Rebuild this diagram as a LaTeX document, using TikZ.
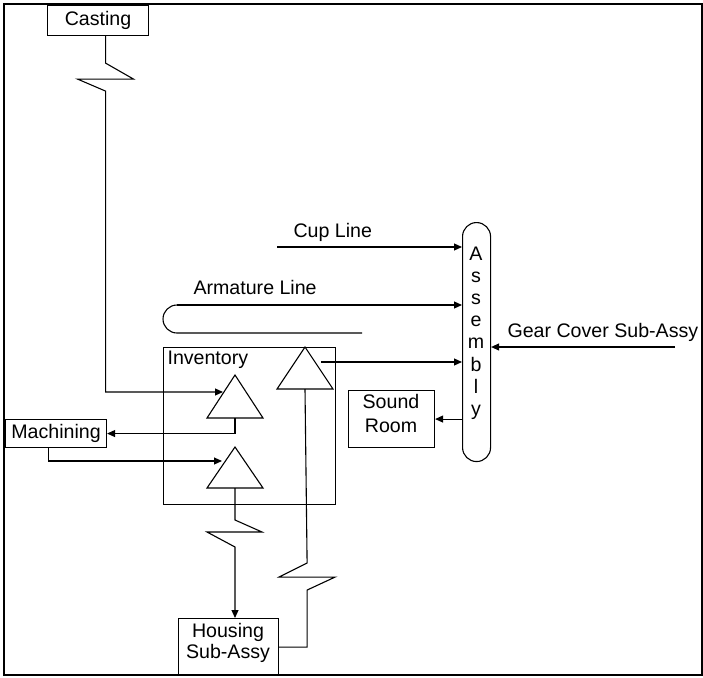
\documentclass[tikz,border=0pt]{standalone}
\usepackage{fontspec}
\setmainfont{Liberation Sans}
\usetikzlibrary{arrows.meta}
\begin{document}
\begin{tikzpicture}[x=1pt,y=-1pt,
  line width=1.1pt,
  lbl/.style={font=\fontsize{19.6}{22}\selectfont, inner sep=0pt},
  box/.style={draw, line width=1.1pt, inner sep=0pt, font=\fontsize{19.6}{22}\selectfont, align=center, anchor=north west},
  arr/.style={-{Triangle[length=8pt,width=7pt]}},
]
\useasboundingbox (0,0) rectangle (703,677);
\draw[line width=2.2pt] (4,4) rectangle (702,675);

% boxes
\node[box, minimum width=101pt, minimum height=30pt] (cast) at (47,5) {Casting};
\node[box, minimum width=101pt, minimum height=28pt] (mach) at (5,419) {Machining};
\node[box, minimum width=172pt, minimum height=157pt] (inv) at (163,347) {};
\node[box, minimum width=100pt, minimum height=57pt] (house) at (178,618) {};
\node[box, minimum width=86pt, minimum height=57pt] (snd) at (348,390) {};
\node[box, minimum width=28pt, minimum height=239pt, rounded corners=14pt] (asm) at (462,222) {};

% texts
\node[lbl, anchor=base west] (invt) at (167,364) {Inventory};
\node[lbl, anchor=base] (houseA) at (228,637) {Housing};
\node[lbl, anchor=base] (houseB) at (228,658) {Sub-Assy};
\node[lbl, anchor=base] (sndA) at (391,408) {Sound};
\node[lbl, anchor=base] (sndB) at (391,432) {Room};
\node[lbl, anchor=base west] (cupt) at (293,237) {Cup Line};
\node[lbl, anchor=base west] (armt) at (193,294) {Armature Line};
\node[lbl, anchor=base west] (geart) at (507,337) {Gear Cover Sub-Assy};
\foreach \c [count=\i] in {A,s,s,e,m,b,l,y}
  \node[lbl, anchor=base] (asm\i) at (476,{260+22.2*(\i-1)}) {\c};

% triangles (inventory)
\draw (235,375) coordinate (t1top) -- (207,418) -- (263,418) -- cycle;
\draw (235,447) coordinate (t2top) -- (207,488) -- (263,488) -- cycle;
\draw (305,347) coordinate (t3top) -- (277,389) -- (333,389) -- cycle;
\coordinate (t1b) at (235,418);
\coordinate (t2b) at (235,488);
\coordinate (t3b) at (305,389);
\coordinate (t1in) at (223,392);
\coordinate (t2in) at (222,461);
\coordinate (t3out) at (321,362);

% connectors
\draw[arr] ([xshift=7.5pt]cast.south) -- ++(0,27) -- ++(28,16) -- ++(-56,0) -- ++(28,12) |- (t1in);
\draw[arr] (t1b) |- (mach.east);
\draw[arr] ([xshift=-7.5pt]mach.south) |- (t2in);
\draw[arr] (t2b) -- ++(0,32) -- ++(27,12) -- ++(-55,0) -- ++(28,15) -- (t2b |- house.north);
\draw (house.east) -- ++(28,0) -- ++(0,-57) -- ++(28,-13) -- ++(-56,0) -- ++(28,-14) -- (t3b);
\draw[arr] (t3out) -- (t3out -| asm.west);

\coordinate (cupstart) at (277,247);
\draw[arr] (cupstart) -- (cupstart -| asm.west);

\coordinate (armend) at (362,333);
\coordinate (armtop) at (177,305);
\draw (armend) -- (177,333) arc[start angle=270, end angle=90, radius=14pt];
\draw[arr] (armtop) -- (armtop -| asm.west);

\coordinate (gearstart) at (675,347);
\draw[arr] (gearstart) -- (gearstart -| asm.east);

\draw[arr] (asm.west |- snd.east) -- (snd.east);
\end{tikzpicture}
\end{document}
